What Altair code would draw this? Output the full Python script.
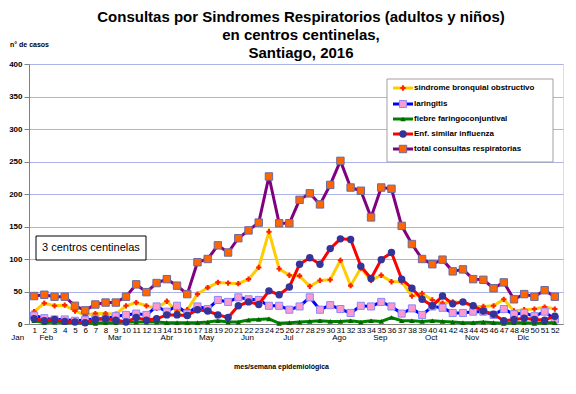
import altair as alt
import pandas as pd

weeks = list(range(1, 53))
bronquial = [19,32,28,29,20,14,16,16,15,28,33,28,24,35,19,22,46,56,64,63,62,69,87,142,85,
             75,74,58,67,68,98,59,86,67,75,65,65,43,47,37,32,34,33,27,27,28,38,20,22,23,26,23]
laringitis = [13,9,7,7,5,6,8,8,12,14,16,14,27,19,28,16,27,23,37,34,41,38,37,28,28,
              22,27,41,22,29,23,17,28,27,34,27,16,24,14,27,25,17,17,19,19,14,23,15,17,12,19,7]
fiebre = [5,2,3,2,2,1,1,2,2,3,3,3,3,2,2,2,2,3,5,3,3,6,7,8,1,
          2,3,4,5,4,4,5,3,5,4,10,5,5,4,5,4,3,2,2,3,2,1,2,2,1,2,2]
influenza = [8,5,7,4,3,2,7,8,6,3,10,6,8,14,14,13,22,20,14,10,28,34,30,51,45,
             57,92,102,92,116,131,130,89,70,99,110,69,55,38,28,43,31,34,28,20,15,5,7,9,7,6,12]
total = [43,45,42,42,28,21,30,33,33,42,61,49,63,69,59,46,95,100,121,110,132,144,156,227,155,
         155,191,201,184,214,251,210,205,164,210,208,151,123,100,92,99,81,84,69,68,55,64,38,46,42,52,42]

series_names = ["sindrome bronquial obstructivo", "laringitis", "fiebre faringoconjuntival",
                "Enf. similar influenza", "total consultas respiratorias"]
series_values = [bronquial, laringitis, fiebre, influenza, total]

months = ["Jan", "Feb", "Mar", "Abr", "May", "Jun", "Jul", "Ago", "Sep", "Oct", "Nov", "Dic"]
month_weeks = [-0.6, 2.2, 8.9, 14, 17.9, 21.9, 25.9, 30.9, 34.9, 39.9, 43.9, 48.9]

styles = [
    dict(line="#ffcc00", shape="cross", fill="#ff2200", stroke="#ff2200", size=28, sw=0),
    dict(line="#0000ff", shape="square", fill="#ff99cc", stroke="#8888ff", size=50, sw=1),
    dict(line="#008000", shape="triangle-up", fill="#006600", stroke="#006600", size=30, sw=0),
    dict(line="#ff0000", shape="circle", fill="#333399", stroke="#333399", size=55, sw=0),
    dict(line="#800080", shape="square", fill="#ff6600", stroke="#6a6aa0", size=55, sw=1),
]

FONT = "Liberation Sans"

x_enc = alt.X("week:Q",
              scale=alt.Scale(domain=[0.5, 52.8], nice=False, zero=False),
              axis=alt.Axis(values=weeks, labelFontSize=8, labelFont=FONT, labelColor="black",
                            labelOverlap=False, labelFlush=False, ticks=False, labelPadding=2,
                            grid=False, domainColor="#808080",
                            title="mes/semana epidemiológica", titleFont=FONT, titleFontSize=7,
                            titleFontWeight="bold", titleX=252, titleY=42,
                            titleBaseline="middle", titleAlign="center"))
y_enc = alt.Y("value:Q",
              scale=alt.Scale(domain=[0, 400], nice=False),
              axis=alt.Axis(values=list(range(0, 401, 50)), labelFontSize=8, labelFont=FONT,
                            labelFontWeight="bold", labelColor="black", tickSize=5,
                            tickColor="#808080", labelPadding=2, domainColor="#808080",
                            grid=True, gridColor="#aab2e6", gridWidth=1, title=None))

layers = []
for name, vals, st in zip(series_names, series_values, styles):
    df = pd.DataFrame({"week": weeks, "value": vals, "serie": name})
    base = alt.Chart(df)
    layers.append(base.mark_line(color=st["line"], strokeWidth=3).encode(x=x_enc, y=y_enc))
    layers.append(base.mark_point(shape=st["shape"], filled=True, fill=st["fill"],
                                  stroke=st["stroke"], strokeWidth=st["sw"], size=st["size"],
                                  opacity=1).encode(x=x_enc, y=y_enc))

# month labels
mdf = pd.DataFrame({"week": month_weeks, "mes": months})
layers.append(alt.Chart(mdf).mark_text(fontSize=8, font=FONT, color="black").encode(
    x=x_enc, y=alt.value(274), text="mes:N"))

one = pd.DataFrame({"a": [0]})
# y axis title
layers.append(alt.Chart(one).mark_text(text="n° de casos", fontSize=7, font=FONT, fontWeight="bold",
                                      align="left", baseline="middle", color="black").encode(
    x=alt.value(-19), y=alt.value(-19)))

# annotation box
layers.append(alt.Chart(one).mark_rect(fill="white", stroke="black", strokeWidth=1).encode(
    x=alt.value(7), x2=alt.value(117), y=alt.value(172), y2=alt.value(196)))
layers.append(alt.Chart(one).mark_text(text="3 centros centinelas", fontSize=11, font=FONT,
                                      align="left", baseline="middle", color="black").encode(
    x=alt.value(13), y=alt.value(184)))

# legend
layers.append(alt.Chart(one).mark_rect(fill="white", stroke="#a0a0a0", strokeWidth=1).encode(
    x=alt.value(358), x2=alt.value(524), y=alt.value(15), y2=alt.value(98)))
row_y = [24, 40, 55, 70, 85]
for name, st, yy in zip(series_names, styles, row_y):
    layers.append(alt.Chart(one).mark_rule(color=st["line"], strokeWidth=3).encode(
        x=alt.value(364), x2=alt.value(384), y=alt.value(yy)))
    layers.append(alt.Chart(one).mark_point(shape=st["shape"], filled=True, fill=st["fill"],
                                           stroke=st["stroke"], strokeWidth=st["sw"],
                                           size=st["size"], opacity=1).encode(
        x=alt.value(374), y=alt.value(yy)))
    layers.append(alt.Chart(one).mark_text(text=name, fontSize=8, font=FONT, fontWeight="bold",
                                          align="left", baseline="middle", color="black").encode(
        x=alt.value(385), y=alt.value(yy)))

chart = alt.layer(*layers).properties(
    width=534, height=260,
    padding={"left": 21, "top": 56, "right": 3, "bottom": 50},
    autosize=alt.AutoSizeParams(type="none"),
    title=alt.TitleParams(
        text=["Consultas por Sindromes Respiratorios (adultos y niños)",
              "en centros centinelas,", "Santiago, 2016"],
        font=FONT, fontSize=15, fontWeight="bold", color="black", anchor="middle",
        frame="group", dx=5, dy=23, offset=3, lineHeight=18),
).configure_view(fill="#d4d4d4", stroke="#808080").configure(background="white")

chart.save("out.html", embed_options={"renderer": "svg", "actions": False})
